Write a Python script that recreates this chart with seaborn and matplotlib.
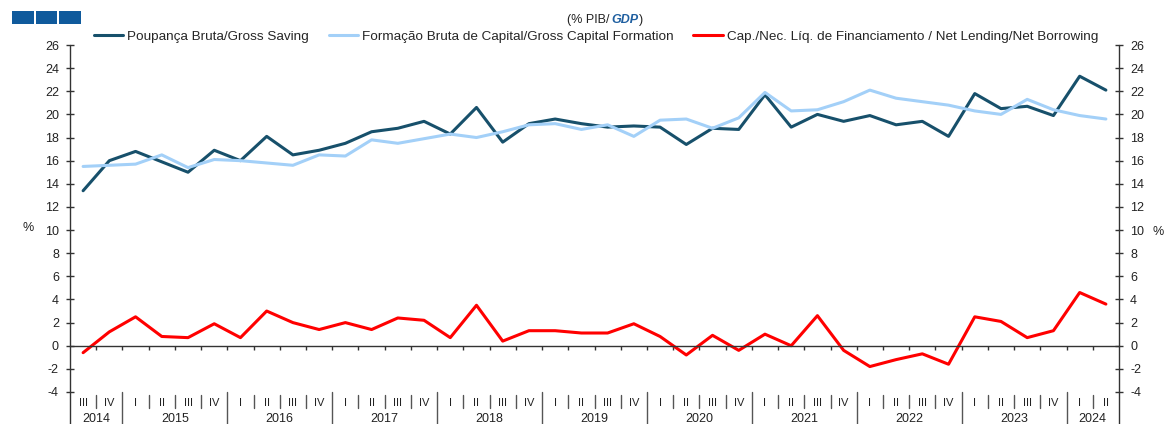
import numpy as np
import pandas as pd
import matplotlib
matplotlib.use("Agg")
import matplotlib.pyplot as plt
from matplotlib.lines import Line2D
from matplotlib.patches import Rectangle
import seaborn as sns

quarters = ["III", "IV"] + ["I", "II", "III", "IV"] * 9 + ["I", "II"]
years = ["2014", "2015", "2016", "2017", "2018", "2019", "2020", "2021", "2022", "2023", "2024"]
year_counts = [2, 4, 4, 4, 4, 4, 4, 4, 4, 4, 2]

gross_saving = [13.4, 16.0, 16.8, 15.9, 15.0, 16.9, 16.0, 18.1, 16.5, 16.9,
                17.5, 18.5, 18.8, 19.4, 18.3, 20.6, 17.6, 19.2, 19.6, 19.2,
                18.9, 19.0, 18.9, 17.4, 18.8, 18.7, 21.7, 18.9, 20.0, 19.4,
                19.9, 19.1, 19.4, 18.1, 21.8, 20.5, 20.7, 19.9, 23.3, 22.1]
gross_capital = [15.5, 15.6, 15.7, 16.5, 15.4, 16.1, 16.0, 15.8, 15.6, 16.5,
                 16.4, 17.8, 17.5, 17.9, 18.3, 18.0, 18.5, 19.1, 19.2, 18.7,
                 19.1, 18.1, 19.5, 19.6, 18.8, 19.7, 21.9, 20.3, 20.4, 21.1,
                 22.1, 21.4, 21.1, 20.8, 20.3, 20.0, 21.3, 20.4, 19.9, 19.6]
net_lending = [-0.6, 1.2, 2.5, 0.8, 0.7, 1.9, 0.7, 3.0, 2.0, 1.4,
               2.0, 1.4, 2.4, 2.2, 0.7, 3.5, 0.4, 1.3, 1.3, 1.1,
               1.1, 1.9, 0.8, -0.8, 0.9, -0.4, 1.0, 0.0, 2.6, -0.4,
               -1.8, -1.2, -0.7, -1.6, 2.5, 2.1, 0.7, 1.3, 4.6, 3.6]

labels = ["Poupança Bruta/Gross Saving",
          "Formação Bruta de Capital/Gross Capital Formation",
          "Cap./Nec. Líq. de Financiamento / Net Lending/Net Borrowing"]
colors = ["#17506b", "#a3d0f8", "#ff0000"]

n = len(quarters)
idx = np.arange(n)
df = pd.DataFrame({
    "idx": np.tile(idx, 3),
    "value": gross_saving + gross_capital + net_lending,
    "series": np.repeat(labels, n),
})

sns.set_theme(style="white")
plt.rcParams["font.family"] = ["Liberation Sans", "DejaVu Sans"]
plt.rcParams["axes.unicode_minus"] = False

fig = plt.figure(figsize=(11.65, 4.24), dpi=100)
ax = fig.add_axes([70 / 1165, 1 - 392 / 424, (1119 - 70) / 1165, 347 / 424])

sns.lineplot(data=df, x="idx", y="value", hue="series", hue_order=labels,
             palette=colors, linewidth=2.2, ax=ax, legend=False)

ax.set_xlim(-0.5, n - 0.5)
ax.set_ylim(-4, 26)
ax.set_yticks(np.arange(-4, 27, 2))
ax.set_xlabel("")
ax.set_ylabel("")

# right axis
ax2 = ax.twinx()
ax2.set_ylim(-4, 26)
ax2.set_yticks(np.arange(-4, 27, 2))
for a in (ax, ax2):
    for s in a.spines.values():
        s.set_visible(False)
    a.grid(False)
ax.tick_params(axis="y", which="major", direction="inout", length=6, width=1,
               color="#333333", labelsize=9, pad=5, left=True, labelcolor="#222222")
ax2.tick_params(axis="y", which="major", direction="inout", length=6, width=1,
                color="#333333", labelsize=9, pad=5, right=True, labelcolor="#222222")

# zero line as x axis with quarter ticks
ax.spines["bottom"].set_visible(True)
ax.spines["bottom"].set_position(("data", 0))
ax.spines["bottom"].set_color("#333333")
ax.spines["bottom"].set_linewidth(1)
ax.set_xticks(np.arange(0.5, n - 0.5, 1))
ax.set_xticklabels([])
ax.tick_params(axis="x", direction="out", length=3, width=1, color="#333333", bottom=True)

# vertical side lines extending to bottom
for xf in (70 / 1165, 1119 / 1165):
    fig.add_artist(Line2D([xf, xf], [0, 1 - 45 / 424], color="#333333", lw=1))

# quarter labels and separators
trans = ax.get_xaxis_transform()
for i, q in enumerate(quarters):
    ax.text(i, -0.032, q, transform=trans, ha="center", va="center",
            fontsize=8, color="#222222", clip_on=False)
bounds = np.cumsum(year_counts)
for b in range(1, n):
    if b in bounds:
        ax.plot([b - 0.5, b - 0.5], [0, -0.095], transform=trans, color="#555555",
                lw=1, clip_on=False)
    else:
        ax.plot([b - 0.5, b - 0.5], [-0.008, -0.046], transform=trans, color="#555555",
                lw=1, clip_on=False)
start = 0
for y, c in zip(years, year_counts):
    ax.text(start + (c - 1) / 2, -0.077, y, transform=trans, ha="center", va="center",
            fontsize=9, color="#222222", clip_on=False)
    start += c

# percent labels
fig.text(28 / 1165, 1 - 228 / 424, "%", fontsize=9, ha="center", va="center", color="#222222")
fig.text(1158 / 1165, 1 - 232 / 424, "%", fontsize=9, ha="center", va="center", color="#222222")

# legend
handles = [Line2D([], [], color=c, lw=2.2) for c in colors]
fig.legend(handles, labels, loc="center", bbox_to_anchor=(596 / 1165, 1 - 37 / 424),
           ncol=3, frameon=False, fontsize=9.7, handlelength=2.2, handletextpad=0.3,
           columnspacing=1.45, borderaxespad=0, borderpad=0)

# title with italic blue GDP
t1 = fig.text(567 / 1165, 1 - 20 / 424, "(% PIB/", fontsize=9, ha="left", va="center",
              color="#222222")
t2 = ax.annotate("GDP", xy=(1, 0), xycoords=t1, xytext=(1.5, 0), textcoords="offset points",
                 ha="left", va="bottom", fontsize=9,
                 color="#1f5fa0", fontstyle="italic", fontweight="bold",
                 annotation_clip=False)
t3 = ax.annotate(")", xy=(1, 0), xycoords=t2, ha="left", va="bottom", fontsize=9,
                 color="#222222", annotation_clip=False)

# blue squares top-left
for k in range(3):
    x0 = (12 + k * 23.5) / 1165
    fig.add_artist(Rectangle((x0, 1 - 24 / 424), 21.5 / 1165, 13 / 424,
                             transform=fig.transFigure, color="#0f5a9c", lw=0))

fig.savefig("out.png", dpi=100)
